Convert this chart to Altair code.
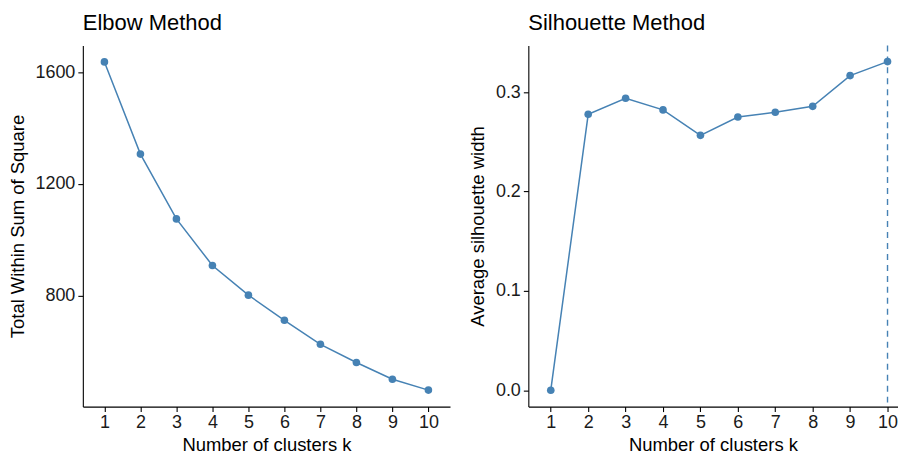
import altair as alt
import pandas as pd

k_values = [1, 2, 3, 4, 5, 6, 7, 8, 9, 10]
wss_values = [1637, 1307, 1075, 908, 802, 712, 626, 561, 501, 462]
sil_values = [0.0, 0.2777, 0.2938, 0.2821, 0.2565, 0.2750, 0.2797, 0.2857, 0.3166, 0.3307]
optimal_k = [10]
wss_ticks = [800, 1200, 1600]
sil_ticks = [0.0, 0.1, 0.2, 0.3]

STEEL = "#4682B4"
FONT = "Liberation Sans"

df_wss = pd.DataFrame({"k": k_values, "wss": wss_values})
df_sil = pd.DataFrame({"k": k_values, "sil": sil_values})
df_opt = pd.DataFrame({"k": optimal_k})

x_title = "Number of clusters k"


def x_enc(domain):
    return alt.X(
        "k:Q",
        scale=alt.Scale(domain=domain, nice=False, zero=False),
        axis=alt.Axis(values=k_values, format="d", title=x_title),
    )


# Elbow panel
base_w = alt.Chart(df_wss)
y_w = alt.Y(
    "wss:Q",
    scale=alt.Scale(domain=[403, 1696], nice=False, zero=False),
    axis=alt.Axis(values=wss_ticks, format="d", title="Total Within Sum of Square"),
)
elbow = alt.layer(
    base_w.mark_line(color=STEEL, strokeWidth=1.5).encode(x=x_enc([0.4, 10.6]), y=y_w),
    base_w.mark_circle(color=STEEL, size=58, opacity=1).encode(x=x_enc([0.4, 10.6]), y=y_w),
).properties(width=368, height=362, title=alt.TitleParams("Elbow Method", frame="group"))

# Silhouette panel
base_s = alt.Chart(df_sil)
y_s = alt.Y(
    "sil:Q",
    scale=alt.Scale(domain=[-0.0165, 0.347], nice=False, zero=False),
    axis=alt.Axis(values=sil_ticks, format=".1f", title="Average silhouette width"),
)
sil_dom = [0.4, 10.2667]
silhouette = alt.layer(
    base_s.mark_line(color=STEEL, strokeWidth=1.5).encode(x=x_enc(sil_dom), y=y_s),
    base_s.mark_circle(color=STEEL, size=58, opacity=1).encode(x=x_enc(sil_dom), y=y_s),
    alt.Chart(df_opt).mark_rule(color=STEEL, strokeWidth=1.4, strokeDash=[6, 5]).encode(
        x=alt.X("k:Q", scale=alt.Scale(domain=sil_dom, nice=False, zero=False))
    ),
).properties(width=370, height=362, title=alt.TitleParams("Silhouette Method", frame="group"))

chart = (
    alt.hconcat(elbow, silhouette, spacing=18.5)
    .properties(padding={"top": 3, "left": 0, "right": 0, "bottom": 0})
    .configure_view(stroke=None)
    .configure_axis(
        grid=False,
        domainColor="black",
        domainWidth=1.1,
        tickColor="black",
        tickWidth=1.1,
        tickSize=5,
        labelFont=FONT,
        labelFontSize=18,
        labelColor="#1a1a1a",
        labelPadding=3,
        titleFont=FONT,
        titleFontSize=18.5,
        titleFontWeight="normal",
        titleColor="black",
        labelFlush=False,
        labelOverlap=False,
    )
    .configure_axisY(titlePadding=7.5)
    .configure_axisX(titlePadding=3.5, labelPadding=2)
    .configure_title(
        font=FONT,
        fontSize=22,
        fontWeight="normal",
        anchor="start",
        color="black",
        offset=10,
    )
)

chart.save("out.html", embed_options={"renderer": "svg", "actions": False})
